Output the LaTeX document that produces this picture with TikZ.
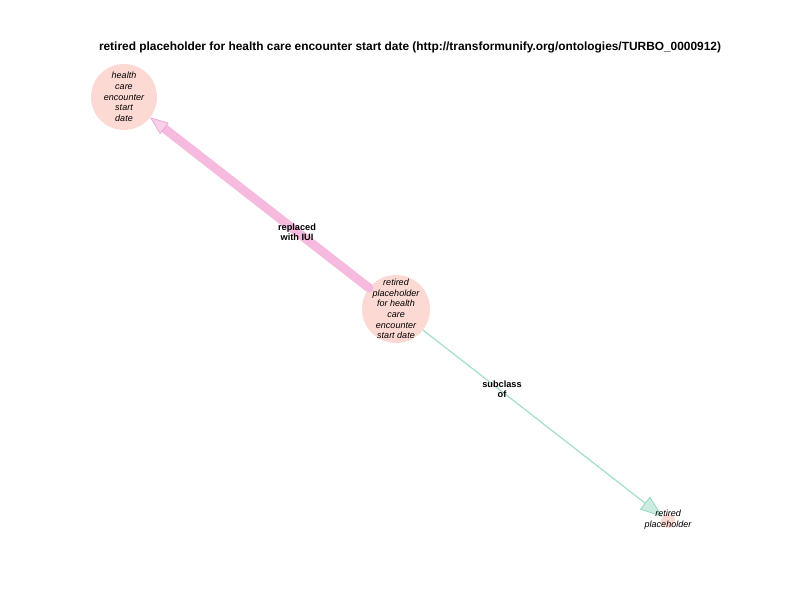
\documentclass[tikz,border=0pt]{standalone}
\usepackage{fontspec}
\setmainfont{Liberation Sans}
\usetikzlibrary{arrows.meta}
\definecolor{nodefill}{RGB}{253,217,211}
\definecolor{pinkedge}{RGB}{246,186,222}
\definecolor{pinkarrow}{RGB}{240,150,205}
\definecolor{tealedge}{RGB}{168,224,205}
\definecolor{tealarrow}{RGB}{120,205,175}
\tikzset{
  concept/.style={circle, fill=nodefill, inner sep=0pt},
  ctext/.style={align=center, inner sep=0pt, font=\fontsize{9}{10.7}\selectfont\itshape},
  elabel/.style={align=center, font=\fontsize{9.2}{10.5}\selectfont\bfseries},
  replacededge/.style={line width=9pt, pinkedge, line cap=round,
    -{Triangle[length=18pt,width=14pt,line width=0.5pt,color=pinkarrow,fill=pinkarrow!45]}},
  subedge/.style={line width=1.3pt, tealedge,
    -{Triangle[length=22pt,width=16pt,line width=0.5pt,color=tealarrow,fill=tealedge!60]}}
}
\begin{document}
\begin{tikzpicture}[x=1pt,y=-1pt]
\useasboundingbox[fill=white] (0,0) rectangle (792,612);
\node[font=\fontsize{11.9}{13}\selectfont\bfseries] (title) at (410,47)
  {retired placeholder for health care encounter start date (http://transformunify.org/ontologies/TURBO\_0000912)};
\node[concept, minimum size=66pt] (A) at (124,97) {};
\node[concept, minimum size=68pt] (B) at (396,309) {};
\node[concept, minimum size=14pt] (C) at (668,521) {};
\draw[replacededge] (B) -- (A);
\draw[subedge] (B) -- (C);
\node[ctext] (At) at (A.center) {health\\care\\encounter\\start\\date};
\node[ctext] (Bt) at (B.center) {retired\\placeholder\\for health\\care\\encounter\\start date};
\node[ctext] (Ct) at (668,520) {retired\\placeholder};
\node[elabel] (l1) at (297,232) {replaced\\with IUI};
\node[elabel] (l2) at (502,389) {subclass\\of};
\end{tikzpicture}
\end{document}
